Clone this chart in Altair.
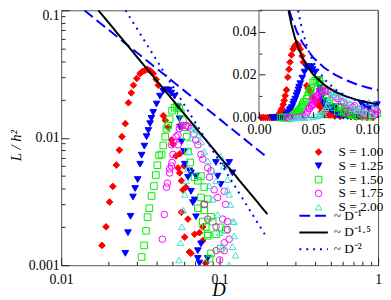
import altair as alt
import pandas as pd

# ---------------- data ----------------
S_LABELS = ["S = 1.00", "S = 1.25", "S = 1.50", "S = 1.75", "S = 2.00"]

red_D = [0.002, 0.004, 0.006, 0.008, 0.010, 0.012, 0.014, 0.016, 0.017,
         0.0181, 0.0192, 0.0202, 0.0212, 0.0223, 0.0233, 0.0242, 0.0254, 0.0266, 0.0277,
         0.0286, 0.0300, 0.0315, 0.0325, 0.0338, 0.0350, 0.0364, 0.0381, 0.0398, 0.0410,
         0.0441, 0.0454, 0.0473, 0.0497, 0.0508, 0.0530, 0.0546, 0.0560, 0.0562, 0.0574,
         0.0587, 0.0596, 0.0613, 0.0574, 0.0631, 0.0602, 0.0695, 0.0645, 0.0660, 0.0746,
         0.0783, 0.0783, 0.0818,
         0.070, 0.075, 0.085, 0.090, 0.095, 0.100, 0.105]
red_L = [0, 0, 0, 0, 0, 0, 0, 0, 0.0008,
         0.00143, 0.0020, 0.00313, 0.00415, 0.0061, 0.0080, 0.0102, 0.0129, 0.0188, 0.0225,
         0.0258, 0.0292, 0.0319, 0.0330, 0.0338, 0.0345, 0.0336, 0.0319, 0.0287, 0.0258,
         0.0149, 0.0137, 0.0121, 0.0096, 0.0089, 0.0072, 0.0058, 0.0053, 0.0075, 0.0046,
         0.0039, 0.0060, 0.0041, 0.0026, 0.0023, 0.00166, 0.00175, 0.00127, 0.00124, 0.0018,
         0.0020, 0.00156, 0.00104,
         0.0007, 0.0005, 0.0004, 0.0003, 0.0002, 0.0001, 0.0]

blue_D = [0.012, 0.014, 0.016, 0.018, 0.020, 0.022, 0.024, 0.025,
          0.0254, 0.0264, 0.0274, 0.0284, 0.0293, 0.0304, 0.0315, 0.0322, 0.0335, 0.0346,
          0.0355, 0.0364, 0.0371, 0.0381, 0.0400, 0.0420, 0.0441, 0.0462, 0.0480, 0.0495, 0.0520,
          0.0546, 0.0558, 0.0562, 0.0575, 0.0596, 0.0602, 0.0631, 0.0645, 0.0660, 0.0660,
          0.0678, 0.0695, 0.0709, 0.0709, 0.0729, 0.0729, 0.0746, 0.0763, 0.0841, 0.0948,
          0.0972, 0.1015, 0.1090, 0.1150, 0.1205,
          0.078, 0.082, 0.088, 0.092]
blue_L = [0, 0, 0, 0, 0, 0, 0, 0.0008,
          0.00124, 0.0018, 0.00242, 0.00343, 0.0040, 0.0047, 0.0062, 0.0073, 0.0086, 0.0102,
          0.0114, 0.0129, 0.0142, 0.0158, 0.0184, 0.0212, 0.0232, 0.0238, 0.0236, 0.0224, 0.0212,
          0.0175, 0.0141, 0.0121, 0.0093, 0.0078, 0.0062, 0.0049, 0.0055, 0.0053, 0.0038,
          0.0031, 0.00325, 0.0024, 0.0050, 0.00113, 0.0013, 0.00104, 0.00147, 0.00113, 0.0064,
          0.0050, 0.0043, 0.0060, 0.0064, 0.0053,
          0.0006, 0.0005, 0.0004, 0.0003]

green_D = [0.020, 0.022, 0.024, 0.026, 0.028, 0.030, 0.031,
           0.0322, 0.0334, 0.0343, 0.0351, 0.0360, 0.0372, 0.0385, 0.0396, 0.0405, 0.0415,
           0.0430, 0.0441, 0.0454, 0.0462, 0.0473, 0.0484, 0.0501, 0.0520, 0.0538, 0.0556, 0.0569,
           0.0587, 0.0604, 0.0620, 0.0631, 0.0652, 0.0695, 0.0729, 0.0763, 0.0763, 0.0800,
           0.0800, 0.0841, 0.0783, 0.0818, 0.0841, 0.0883, 0.0904, 0.0950, 0.0841, 0.0863,
           0.0883, 0.1015, 0.1015, 0.1093, 0.0729, 0.0800,
           0.092, 0.098, 0.104]
green_L = [0, 0, 0, 0, 0, 0, 0.0007,
           0.00116, 0.00143, 0.00186, 0.00238, 0.0028, 0.00349, 0.00418, 0.0051, 0.00609, 0.00727,
           0.0074, 0.0087, 0.0102, 0.0118, 0.0125, 0.0140, 0.0163, 0.0172, 0.0176, 0.0170, 0.0158,
           0.0137, 0.0121, 0.0102, 0.0078, 0.0064, 0.0049, 0.0046, 0.0050, 0.0034, 0.0041,
           0.0030, 0.0033, 0.0022, 0.0020, 0.00175, 0.0024, 0.0022, 0.00175, 0.0017, 0.00113,
           0.00124, 0.00198, 0.00135, 0.0019, 0.0028, 0.0027,
           0.0007, 0.0005, 0.0004]

mag_D = [0.026, 0.028, 0.030, 0.032, 0.034, 0.036, 0.037, 0.040, 0.042,
         0.0435, 0.0448, 0.0462, 0.0468, 0.0484, 0.0484, 0.0497, 0.0501, 0.0508, 0.0497,
         0.0515, 0.0531, 0.0546, 0.0546, 0.0558, 0.0569, 0.0587, 0.0616, 0.0631, 0.0660,
         0.0688, 0.0706, 0.0729, 0.0763, 0.0783, 0.0841, 0.0863, 0.0883, 0.0924, 0.0972,
         0.0800, 0.0841, 0.0950, 0.1069, 0.1090, 0.1044, 0.1122, 0.1122, 0.1150, 0.1069,
         0.1069, 0.0950, 0.1000]
mag_L = [0, 0, 0, 0, 0, 0, 0.0001, 0.0003, 0.0008,
         0.0016, 0.0025, 0.0041, 0.0044, 0.0057, 0.0053, 0.0060, 0.0064, 0.0074, 0.0088,
         0.0093, 0.0102, 0.0105, 0.0088, 0.0118, 0.0125, 0.0125, 0.0125, 0.0123, 0.0118,
         0.0107, 0.0096, 0.0088, 0.0074, 0.0068, 0.0058, 0.0049, 0.0055, 0.0039, 0.0034,
         0.0030, 0.0023, 0.0020, 0.0038, 0.0030, 0.0023, 0.0022, 0.0019, 0.0016, 0.0015,
         0.0013, 0.0013, 0.0011]

cyan_D = [0.030, 0.032, 0.034, 0.036, 0.038, 0.040, 0.042, 0.046, 0.050, 0.053,
          0.0554, 0.0566, 0.0578, 0.0590, 0.0603, 0.0616, 0.0631, 0.0645, 0.0660, 0.0678,
          0.0695, 0.0709,
          0.0729, 0.0763, 0.0800, 0.0841, 0.0904, 0.0950, 0.1015, 0.1069, 0.1122, 0.1150,
          0.1170, 0.1234, 0.1234, 0.1260, 0.1122, 0.1205, 0.1205, 0.1150, 0.0860, 0.0904,
          0.0972, 0.1000, 0.1044]
cyan_L = [0, 0, 0, 0, 0, 0, 0.0001, 0.0002, 0.0004, 0.0008,
          0.0011, 0.0015, 0.0020, 0.0027, 0.0036, 0.0046, 0.0057, 0.0078, 0.0099, 0.0118,
          0.0123, 0.0115,
          0.0105, 0.0093, 0.0078, 0.0066, 0.0055, 0.0046, 0.0072, 0.0060, 0.0047, 0.0036,
          0.0030, 0.0022, 0.0017, 0.0012, 0.0039, 0.0022, 0.0014, 0.0010, 0.0042, 0.0033,
          0.0025, 0.0018, 0.0014]

G_LABELS = ["~ D\u207b\u00b9", "~ D\u207b\u00b9\u00b7\u2075", "~ D\u207b\u00b2"]
dash_D = [0.014, 0.028, 0.03, 0.035, 0.04, 0.05, 0.06, 0.07, 0.08, 0.09, 0.1, 0.11, 0.2]
dash_L = [0.1, 0.05, 0.04667, 0.04, 0.035, 0.028, 0.02333, 0.02, 0.0175, 0.01556, 0.014, 0.01273, 0.007]
solid_D = [0.01717, 0.0273, 0.03, 0.033, 0.036, 0.04, 0.045, 0.05, 0.06, 0.07, 0.08, 0.09, 0.1, 0.11, 0.2]
solid_L = [0.1, 0.04988, 0.0433, 0.03753, 0.03294, 0.02813, 0.02357, 0.02012, 0.01531, 0.01215,
           0.00994, 0.00833, 0.00712, 0.00617, 0.00252]
dot_D = [0.0255, 0.0361, 0.04, 0.045, 0.05, 0.06, 0.07, 0.08, 0.09, 0.1, 0.11, 0.2]
dot_L = [0.1, 0.04988, 0.04063, 0.0321, 0.026, 0.01806, 0.01327, 0.01016, 0.00802, 0.0065, 0.00537, 0.001625]

X_TICKS = [0.01, 0.02, 0.03, 0.04, 0.05, 0.06, 0.07, 0.08, 0.09,
           0.1, 0.2, 0.3, 0.4, 0.5, 0.6, 0.7, 0.8, 0.9, 1]
Y_TICKS = [0.001, 0.002, 0.003, 0.004, 0.005, 0.006, 0.007, 0.008, 0.009,
           0.01, 0.02, 0.03, 0.04, 0.05, 0.06, 0.07, 0.08, 0.09, 0.1]
IX_TICKS = [0, 0.01, 0.02, 0.03, 0.04, 0.05, 0.06, 0.07, 0.08, 0.09, 0.1, 0.11]
IY_TICKS = [0, 0.01, 0.02, 0.03, 0.04, 0.05]

# ---------------- tables ----------------
series = [(red_D, red_L), (blue_D, blue_L), (green_D, green_L), (mag_D, mag_L), (cyan_D, cyan_L)]
pts = pd.concat([pd.DataFrame({"D": d, "L": l, "S": s}) for (d, l), s in zip(series, S_LABELS)],
                ignore_index=True)
guides = pd.concat([pd.DataFrame({"D": d, "L": l, "guide": g})
                    for (d, l), g in zip([(dash_D, dash_L), (solid_D, solid_L), (dot_D, dot_L)], G_LABELS)],
                   ignore_index=True)

FONT = "Liberation Serif"
SHAPES = ["diamond", "triangle-down", "square", "circle", "triangle-up"]
STROKES = ["#ff0000", "#0000ff", "#00ee00", "#ff00ff", "#40e0d0"]
FILLS = ["#ff0000", "#0000ff", "transparent", "transparent", "transparent"]
GCOLORS = ["#0000ff", "#000000", "#0000ff"]
GDASH = [[11, 5], [1, 0], [2, 5]]

leg_s = alt.Legend(title=None, orient="none", legendX=254.8, legendY=137.9, padding=0,
                   symbolSize=45, symbolStrokeWidth=1, clipHeight=12.2, rowPadding=0,
                   labelOffset=13.6, labelFont=FONT, labelFontSize=13.5, labelColor="black")
leg_g = alt.Legend(title=None, orient="none", legendX=241, legendY=200.5, padding=0,
                   symbolType="stroke", symbolSize=841, symbolStrokeWidth=2, clipHeight=16.5,
                   rowPadding=0, labelOffset=5, labelFont=FONT, labelFontSize=13.5, labelColor="black")

shape_enc = alt.Shape("S:N", scale=alt.Scale(domain=S_LABELS, range=SHAPES), legend=leg_s)
stroke_enc = alt.Stroke("S:N", scale=alt.Scale(domain=S_LABELS, range=STROKES), legend=leg_s)
fill_enc = alt.Fill("S:N", scale=alt.Scale(domain=S_LABELS, range=FILLS), legend=leg_s)
gcolor_enc = alt.Color("guide:N", scale=alt.Scale(domain=G_LABELS, range=GCOLORS), legend=leg_g)
gdash_enc = alt.StrokeDash("guide:N", scale=alt.Scale(domain=G_LABELS, range=GDASH), legend=leg_g)

# ---------------- main (log-log) ----------------
mx_scale = alt.Scale(type="log", domain=[0.01, 1], nice=False)
my_scale = alt.Scale(type="log", domain=[0.001, 0.1], nice=False)

mx_axis = alt.Axis(
    values=X_TICKS, domain=False, grid=False, zindex=1,
    labelExpr="datum.value == 0.01 ? '0.01' : datum.value == 0.1 ? '0.1' : datum.value == 1 ? '1' : ''",
    tickSize={"condition": {"test": "datum.value == 0.01 || datum.value == 0.1 || datum.value == 1", "value": -8}, "value": -4},
    tickColor="#222", tickWidth=1, labelPadding=16, labelBaseline="top", labelFlush=False, labelOverlap=False,
    labelFont=FONT, labelFontSize=14, labelColor="black",
    title="D", titleFont=FONT, titleFontSize=19, titleFontStyle="italic", titleFontWeight="normal",
    titleColor="black", titleX=160, titleY=25, titleAlign="center", titleBaseline="middle")
my_axis = alt.Axis(
    values=Y_TICKS, domain=False, grid=False, zindex=1,
    labelExpr="datum.value == 0.001 ? '0.001' : datum.value == 0.01 ? '0.01' : datum.value == 0.1 ? '0.1' : ''",
    tickSize={"condition": {"test": "datum.value == 0.001 || datum.value == 0.01 || datum.value == 0.1", "value": -8}, "value": -4},
    tickColor="#222", tickWidth=1, labelPadding=10, labelFlush=False, labelOverlap=False,
    labelBaseline="middle",
    labelOffset={"condition": {"test": "datum.value == 0.1", "value": 5}, "value": 0},
    labelFont=FONT, labelFontSize=14, labelColor="black",
    title="L / h\u00b2", titleFont=FONT, titleFontSize=15, titleFontStyle="italic", titleFontWeight="normal",
    titleColor="black", titleX=-41, titleY=137, titleAngle=270, titleAlign="center",
    titleBaseline="alphabetic")

main_base_pts = alt.Chart(pts).transform_filter("datum.L >= 0.001")
main_pts = main_base_pts.mark_point(size=45, opacity=1, strokeWidth=1, clip=True).encode(
    x=alt.X("D:Q", scale=mx_scale, axis=mx_axis),
    y=alt.Y("L:Q", scale=my_scale, axis=my_axis),
    shape=shape_enc, stroke=stroke_enc, fill=fill_enc)
main_lines = alt.Chart(guides).mark_line(strokeWidth=2, clip=True).encode(
    x=alt.X("D:Q", scale=mx_scale, axis=mx_axis),
    y=alt.Y("L:Q", scale=my_scale, axis=my_axis),
    color=gcolor_enc, strokeDash=gdash_enc, order="D:Q")
main = alt.layer(main_pts, main_lines)

# ---------------- inset (linear) ----------------
ix_scale = alt.Scale(domain=[0, 0.11], range=[201, 322], nice=False, zero=False)
iy_scale = alt.Scale(domain=[0, 0.05], range=[109, 0], nice=False, zero=False)
ix_axis = alt.Axis(
    values=IX_TICKS, orient="bottom", offset=-150, domain=False, grid=False, zindex=2,
    labelExpr="datum.value == 0 ? '0.00' : datum.value == 0.05 ? '0.05' : datum.value == 0.1 ? '0.10' : ''",
    tickSize={"condition": {"test": "datum.value == 0 || datum.value == 0.05 || datum.value == 0.1", "value": -6}, "value": -3},
    tickColor="#222", tickWidth=1, labelPadding=11, labelBaseline="top", labelFlush=False, labelOverlap=False,
    labelFont=FONT, labelFontSize=14, labelColor="black", title=None)
iy_axis = alt.Axis(
    values=IY_TICKS, orient="left", offset=-201, domain=False, grid=False, zindex=2,
    labelExpr="datum.value == 0 ? '0.00' : datum.value == 0.02 ? '0.02' : datum.value == 0.04 ? '0.04' : ''",
    tickSize={"condition": {"test": "datum.value == 0 || datum.value == 0.02 || datum.value == 0.04", "value": -6}, "value": -3},
    tickColor="#222", tickWidth=1, labelPadding=9, labelFlush=False, labelOverlap=False,
    labelFont=FONT, labelFontSize=14, labelColor="black", title=None)

inset_bg = alt.Chart(pd.DataFrame({"k": [0]})).mark_rect(fill="white", stroke="#555", strokeWidth=1).encode(
    x=alt.XDatum(0, type="quantitative", scale=ix_scale, axis=ix_axis),
    x2=alt.X2Datum(0.11),
    y=alt.YDatum(0, type="quantitative", scale=iy_scale, axis=iy_axis),
    y2=alt.Y2Datum(0.05))
inset_pts = alt.Chart(pts).transform_filter("datum.D <= 0.11 && datum.L <= 0.05").mark_point(
    size=45, opacity=1, strokeWidth=1).encode(
    x=alt.X("D:Q", scale=ix_scale, axis=ix_axis),
    y=alt.Y("L:Q", scale=iy_scale, axis=iy_axis),
    shape=shape_enc, stroke=stroke_enc, fill=fill_enc)
inset_lines = alt.Chart(guides).transform_filter("datum.D <= 0.11 && datum.L <= 0.05").mark_line(
    strokeWidth=2).encode(
    x=alt.X("D:Q", scale=ix_scale, axis=ix_axis),
    y=alt.Y("L:Q", scale=iy_scale, axis=iy_axis),
    color=gcolor_enc, strokeDash=gdash_enc, order="D:Q")
inset = alt.layer(inset_bg, inset_pts, inset_lines)

chart = alt.layer(main, inset).resolve_scale(x="independent", y="independent").properties(
    width=322, height=259,
    autosize=alt.AutoSizeParams(type="none"),
    padding={"left": 54, "top": 0, "right": 5, "bottom": 33},
).configure_view(stroke="#555", strokeWidth=1)

chart.save("out.html", embed_options={"renderer": "svg", "actions": False})
